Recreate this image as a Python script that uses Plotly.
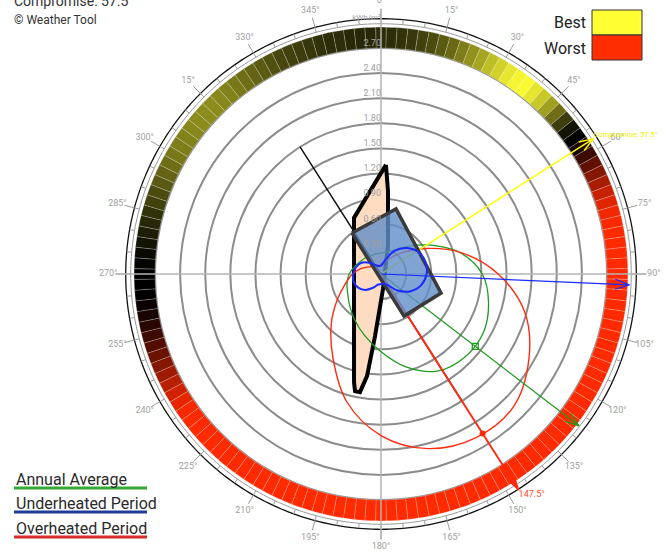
import math
import plotly.graph_objects as go

# ---------------- data ----------------
# Radiation scale rings (kWh/m²)
grid_values = [0.30, 0.60, 0.90, 1.20, 1.50, 1.80, 2.10, 2.40, 2.70]
grid_labels = ["0.30", "0.60", "0.90", "1.20", "1.50", "1.80", "2.10", "2.40", "2.70"]

# Compass labels every 15 degrees
compass_theta = [0, 15, 30, 45, 60, 75, 90, 105, 120, 135, 150, 165,
                 180, 195, 210, 225, 240, 255, 270, 285, 300, 315, 330, 345]
compass_labels = ["0°", "15°", "30°", "45°", "60°", "75°", "90°", "105°", "120°", "135°",
                  "150°", "165°", "180°", "195°", "210°", "225°", "240°", "255°", "270°",
                  "285°", "300°", "15°", "330°", "345°"]

# Orientation rating ring, 2.5° segments (0 = best, 0.5 = neutral, 1 = worst)
ring_step = 2.5
ring_score = [
    0.41, 0.41, 0.40, 0.39, 0.37, 0.35, 0.32, 0.29, 0.25, 0.21, 0.17, 0.12,   # 0 - 27.5
    0.08, 0.04, 0.01, 0.00, 0.04, 0.10, 0.18, 0.28, 0.38, 0.46, 0.50, 0.55,   # 30 - 57.5
    0.62, 0.69, 0.76, 0.83, 0.89, 0.94, 0.97, 0.99,                           # 60 - 77.5
    1.00, 1.00, 1.00, 1.00, 1.00, 1.00, 1.00, 1.00, 1.00, 1.00, 1.00, 1.00,   # 80 - 107.5
    1.00, 1.00, 1.00, 1.00, 1.00, 1.00, 1.00, 1.00, 1.00, 1.00, 1.00, 1.00,   # 110 - 137.5
    1.00, 1.00, 1.00, 1.00, 1.00, 1.00, 1.00, 1.00, 1.00, 1.00, 1.00, 1.00,   # 140 - 167.5
    1.00, 1.00, 1.00, 1.00, 1.00, 1.00, 1.00, 1.00, 1.00, 1.00, 1.00, 1.00,   # 170 - 197.5
    1.00, 1.00, 1.00, 1.00, 1.00, 1.00, 1.00, 1.00, 1.00, 1.00, 1.00, 1.00,   # 200 - 227.5
    1.00, 1.00,                                                               # 230 - 232.5
    0.98, 0.95, 0.91, 0.86, 0.81, 0.76, 0.71, 0.66, 0.62, 0.58, 0.55, 0.52,   # 235 - 262.5
    0.50, 0.50, 0.50, 0.49, 0.48, 0.46, 0.44, 0.42, 0.40, 0.37, 0.35, 0.32,   # 265 - 292.5
    0.30, 0.28, 0.26, 0.25, 0.24, 0.23, 0.22, 0.22, 0.22, 0.23, 0.24, 0.26,   # 295 - 322.5
    0.28, 0.30, 0.32, 0.34, 0.36, 0.37, 0.38, 0.39, 0.40, 0.41, 0.41, 0.42,   # 325 - 352.5
    0.42, 0.42,                                                               # 355 - 357.5
]
ring_theta = [i * ring_step for i in range(len(ring_score))]

# Incident radiation by orientation (kWh/m²)
curve_theta = [0, 15, 30, 45, 60, 75, 90, 105, 120, 135, 150, 165,
               180, 195, 210, 225, 240, 255, 270, 285, 300, 315, 330, 345]
annual_r = [0.25, 0.27, 0.33, 0.47, 0.69, 0.98, 1.21, 1.33, 1.41, 1.41, 1.34, 1.15,
            0.93, 0.76, 0.63, 0.53, 0.46, 0.42, 0.38, 0.33, 0.29, 0.27, 0.25, 0.25]
under_r = [0.10, 0.16, 0.32, 0.44, 0.52, 0.55, 0.545, 0.50, 0.41, 0.28, 0.15, 0.12,
           0.12, 0.13, 0.19, 0.27, 0.32, 0.34, 0.33, 0.31, 0.27, 0.19, 0.12, 0.10]
over_r = [0.12, 0.15, 0.22, 0.36, 0.61, 0.99, 1.40, 1.78, 2.04, 2.24, 2.26, 2.16,
          1.93, 1.58, 1.15, 0.84, 0.60, 0.44, 0.34, 0.25, 0.17, 0.13, 0.12, 0.11]

# Optimum directions
compromise_deg = 57.5
annual_best_deg = 127.5
annual_best_r = 1.42
under_best_deg = 92.5
over_worst_deg = 147.5
over_worst_r = 2.26
building_axis_r = 1.80

# Shading polygon (r, theta)
shade_r = [1.305, 0.996, 0.345, 0.181, 0.745, 1.231, 1.434, 1.434, 1.332, 0.744]
shade_theta = [2.6, 4.8, 14.0, 172.4, 185.5, 187.8, 190.1, 192.5, 194.0, 334.3]

# Building footprint (r, theta)
building_r = [0.601, 0.798, 0.753, 0.573]
building_theta = [324.7, 13.0, 107.6, 151.3]

# ---------------- layout geometry ----------------
W, H = 666, 555
CX, CY = 381, 274
PX_PER_UNIT = 83.7
R_MAX = 3.27
RING_IN, RING_OUT = 2.70, 2.95
GRAY_CIRCLE, BLACK_CIRCLE = 2.99, 3.05
MAJOR_TICK_END = 3.17
LABEL_R = 3.26

rad_px = R_MAX * PX_PER_UNIT
dom_x = [(CX - rad_px) / W, (CX + rad_px) / W]
dom_y = [1 - (CY + rad_px) / H, 1 - (CY - rad_px) / H]

FONT = "Roboto"


def closed(vals):
    return list(vals) + [vals[0]]


def arrow_head(r_tip, th_tip, length, half):
    rb = r_tip - length
    d = math.degrees(math.atan2(half, rb))
    rs = math.hypot(rb, half)
    return [rs, r_tip, rs], [th_tip - d, th_tip, th_tip + d]


full_circle = [float(a) for a in range(0, 361)]

fig = go.Figure()

# Rating ring
fig.add_trace(go.Barpolar(
    r=[RING_OUT - RING_IN] * len(ring_theta), theta=ring_theta, base=RING_IN,
    width=ring_step,
    marker=dict(color=ring_score, cmin=0, cmax=1,
                colorscale=[[0, "#fafa32"], [0.5, "#000000"], [1, "#ff2a00"]],
                line=dict(color="rgba(255,255,255,0.35)", width=0.6)),
    hoverinfo="skip", showlegend=False))

# Outer circles
fig.add_trace(go.Scatterpolar(r=[GRAY_CIRCLE] * len(full_circle), theta=full_circle,
                              mode="lines", line=dict(color="#9a9a9a", width=1),
                              hoverinfo="skip", showlegend=False))
fig.add_trace(go.Scatterpolar(r=[BLACK_CIRCLE] * len(full_circle), theta=full_circle,
                              mode="lines", line=dict(color="#111111", width=1.3),
                              hoverinfo="skip", showlegend=False))

# Compass ticks
tick_r, tick_t = [], []
for a in range(0, 360, 5):
    end = MAJOR_TICK_END if a % 15 == 0 else BLACK_CIRCLE
    tick_r += [GRAY_CIRCLE, end, None]
    tick_t += [a, a, None]
fig.add_trace(go.Scatterpolar(r=tick_r, theta=tick_t, mode="lines",
                              line=dict(color="#9a9a9a", width=1),
                              hoverinfo="skip", showlegend=False))

# Main N-S / E-W axes
ax_r, ax_t = [], []
for a in [0, 90, 180, 270]:
    ax_r += [0, MAJOR_TICK_END, None]
    ax_t += [a, a, None]
fig.add_trace(go.Scatterpolar(r=ax_r, theta=ax_t, mode="lines",
                              line=dict(color="#b4b4b4", width=1.5),
                              hoverinfo="skip", showlegend=False))

# Shading polygon
fig.add_trace(go.Scatterpolar(r=closed(shade_r), theta=closed(shade_theta), mode="lines",
                              fill="toself", fillcolor="#fddcc2",
                              line=dict(color="#000000", width=4),
                              hoverinfo="skip", showlegend=False))

# Radiation curves
fig.add_trace(go.Scatterpolar(r=closed(annual_r), theta=closed(curve_theta), mode="lines",
                              line=dict(color="#1f9a1f", width=1.3, shape="spline", smoothing=1),
                              hoverinfo="skip", showlegend=False))
fig.add_trace(go.Scatterpolar(r=closed(over_r), theta=closed(curve_theta), mode="lines",
                              line=dict(color="#ff2a10", width=1.4, shape="spline", smoothing=1),
                              hoverinfo="skip", showlegend=False))

# Building orientation axis
fig.add_trace(go.Scatterpolar(r=[building_axis_r, 0, building_axis_r],
                              theta=[over_worst_deg + 180, 0, over_worst_deg],
                              mode="lines", line=dict(color="#111111", width=1.5),
                              hoverinfo="skip", showlegend=False))

# Direction arrows
arrow_specs = [
    (compromise_deg, 3.01, "#ffff00", 1.5),
    (annual_best_deg, 2.98, "#1f9a1f", 1.2),
]
for deg, tip, col, w in arrow_specs:
    fig.add_trace(go.Scatterpolar(r=[0, tip], theta=[deg, deg], mode="lines",
                                  line=dict(color=col, width=w),
                                  hoverinfo="skip", showlegend=False))
    hr, ht = arrow_head(tip, deg, 0.17, 0.06)
    fig.add_trace(go.Scatterpolar(r=hr, theta=ht, mode="lines",
                                  line=dict(color=col, width=w),
                                  hoverinfo="skip", showlegend=False))

# Overheated worst direction
fig.add_trace(go.Scatterpolar(r=[0, 3.06], theta=[over_worst_deg, over_worst_deg], mode="lines",
                              line=dict(color="#ff2a10", width=2),
                              hoverinfo="skip", showlegend=False))
hr, ht = arrow_head(3.06, over_worst_deg, 0.12, 0.035)
fig.add_trace(go.Scatterpolar(r=closed(hr), theta=closed(ht), mode="lines", fill="toself",
                              fillcolor="#ff2a10", line=dict(color="#ff2a10", width=1),
                              hoverinfo="skip", showlegend=False))

# Building footprint
fig.add_trace(go.Scatterpolar(r=closed(building_r), theta=closed(building_theta), mode="lines",
                              fill="toself", fillcolor="rgba(96,141,200,0.8)",
                              line=dict(color="#3a3a3a", width=3.5),
                              hoverinfo="skip", showlegend=False))

# Underheated curve and its best direction
fig.add_trace(go.Scatterpolar(r=closed(under_r), theta=closed(curve_theta), mode="lines",
                              line=dict(color="#1a2cff", width=2, shape="spline", smoothing=1),
                              hoverinfo="skip", showlegend=False))
fig.add_trace(go.Scatterpolar(r=[0, 2.97], theta=[under_best_deg, under_best_deg], mode="lines",
                              line=dict(color="#1a2cff", width=1.2),
                              hoverinfo="skip", showlegend=False))
hr, ht = arrow_head(2.97, under_best_deg, 0.17, 0.06)
fig.add_trace(go.Scatterpolar(r=hr, theta=ht, mode="lines", line=dict(color="#1a2cff", width=1.2),
                              hoverinfo="skip", showlegend=False))

# Peak markers
fig.add_trace(go.Scatterpolar(r=[annual_best_r], theta=[annual_best_deg], mode="markers",
                              marker=dict(symbol="square-open", size=6, color="#1f9a1f",
                                          line=dict(width=1.3, color="#1f9a1f")),
                              hoverinfo="skip", showlegend=False))
fig.add_trace(go.Scatterpolar(r=[over_worst_r], theta=[over_worst_deg], mode="markers",
                              marker=dict(symbol="circle", size=6, color="#ff2a10"),
                              hoverinfo="skip", showlegend=False))

# Radial scale labels
fig.add_trace(go.Scatterpolar(r=grid_values, theta=[0] * len(grid_values), mode="text",
                              text=grid_labels, textposition="top left",
                              textfont=dict(family=FONT, size=9, color="#a0a0a0"),
                              cliponaxis=False, hoverinfo="skip", showlegend=False))
fig.add_trace(go.Scatterpolar(r=[3.06], theta=[0], mode="text", text=["kWh/m²"],
                              textposition="middle left",
                              textfont=dict(family=FONT, size=8, color="#a8a8a8"),
                              cliponaxis=False, hoverinfo="skip", showlegend=False))

# Compass labels
fig.add_trace(go.Scatterpolar(r=[LABEL_R] * len(compass_theta), theta=compass_theta, mode="text",
                              text=compass_labels, textposition="middle center",
                              textfont=dict(family=FONT, size=9, color="#a0a0a0"),
                              cliponaxis=False, hoverinfo="skip", showlegend=False))

# Direction labels
fig.add_trace(go.Scatterpolar(r=[3.01], theta=[compromise_deg], mode="text",
                              text=[f"Compromise: {compromise_deg}°"], textposition="top right",
                              textfont=dict(family=FONT, size=7.5, color="#f2f200"),
                              cliponaxis=False, hoverinfo="skip", showlegend=False))
fig.add_trace(go.Scatterpolar(r=[3.06], theta=[over_worst_deg], mode="text",
                              text=[f"{over_worst_deg}°"], textposition="bottom right",
                              textfont=dict(family=FONT, size=9, color="#ff4a2a"),
                              cliponaxis=False, hoverinfo="skip", showlegend=False))


def px(x, y):
    return x / W, 1 - y / H


annotations = []
shapes = []


def text_at(x, y, s, size, color="#2a2a2a", xanchor="left"):
    ax, ay = px(x, y)
    annotations.append(dict(x=ax, y=ay, xref="paper", yref="paper", text=s, showarrow=False,
                            xanchor=xanchor, yanchor="middle",
                            font=dict(family=FONT, size=size, color=color)))


# Header text
text_at(12, 1, f"Compromise: {compromise_deg}°", 14, "#333333")
text_at(12, 20, "© Weather Tool", 12, "#333333")

# Best / worst key
text_at(588, 22, "Best", 16, "#222222", xanchor="right")
text_at(588, 48, "Worst", 16, "#222222", xanchor="right")
for y0, y1, col in [(10, 35, "#ffff33"), (35, 60, "#ff2d00")]:
    x0p, y0p = px(592, y0)
    x1p, y1p = px(642, y1)
    shapes.append(dict(type="rect", xref="paper", yref="paper", x0=x0p, x1=x1p, y0=y1p, y1=y0p,
                       fillcolor=col, line=dict(color="#333333", width=1)))

# Series key
legend_items = [("Annual Average", "#33aa33", 479, 488),
                ("Underheated Period", "#1f3c96", 503, 512),
                ("Overheated Period", "#d62b2b", 528, 537)]
for label, col, ty, ly in legend_items:
    text_at(14, ty, label, 16, "#2a2a2a")
    x0p, yp = px(14, ly)
    x1p, _ = px(147, ly)
    shapes.append(dict(type="line", xref="paper", yref="paper", x0=x0p, x1=x1p, y0=yp, y1=yp,
                       line=dict(color=col, width=3)))

fig.update_layout(
    width=W, height=H,
    margin=dict(l=0, r=0, t=0, b=0),
    paper_bgcolor="white",
    font=dict(family=FONT),
    showlegend=False,
    annotations=annotations,
    shapes=shapes,
    polar=dict(
        domain=dict(x=dom_x, y=dom_y),
        bgcolor="rgba(0,0,0,0)",
        bargap=0,
        radialaxis=dict(range=[0, R_MAX], tickvals=grid_values, showticklabels=False,
                        ticks="", showline=False, gridcolor="#8c8c8c", gridwidth=1.5),
        angularaxis=dict(rotation=90, direction="clockwise", showgrid=False,
                         showticklabels=False, ticks="", showline=False),
    ),
)

fig.write_html("out.html")
